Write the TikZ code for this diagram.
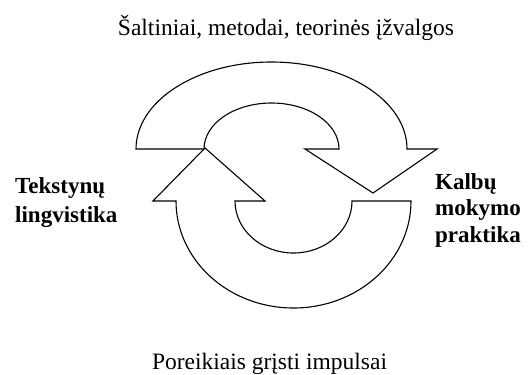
\documentclass[tikz,border=0pt]{standalone}
\usepackage{fontspec}
\setmainfont{Liberation Serif}
\usetikzlibrary{positioning}
\tikzstyle{caption} = [
    inner sep=0pt,
    anchor=base,
    font=\fontsize{23.5bp}{28bp}\selectfont
]
\tikzstyle{field} = [
    inner sep=0pt,
    anchor=base west,
    align=left,
    font=\bfseries\fontsize{23bp}{28bp}\selectfont
]
\tikzstyle{cycle} = [line width=1.1bp, line join=miter, fill=white]

\begin{document}
\begin{tikzpicture}[x=1bp, y=-1bp]

\useasboundingbox (0,0) rectangle (528,374);

% upper arrow, pointing down on the right
\draw [cycle] (136,149)
    arc [start angle=180, end angle=0, x radius=135.5bp, y radius=87bp]
    -- (437,149) -- (373,193) -- (305,149) -- (339,149)
    arc [start angle=0, end angle=180, x radius=67.5bp, y radius=46bp]
    -- cycle;

% lower arrow, pointing up on the left
\draw [cycle] (176,201)
    arc [start angle=180, end angle=360, x radius=117.5bp, y radius=107bp]
    -- (352,201)
    arc [start angle=0, end angle=-180, x radius=58.5bp, y radius=52bp]
    -- (265,201) -- (205,148) -- (153,201) -- cycle;

\node (sources) [caption] at (286,35)
{Šaltiniai, metodai, teorinės įžvalgos};

\node (impulses) [caption] at (269.5,369)
{Poreikiais grįsti impulsai};

\node (corpus) [field, font=\bfseries\fontsize{23bp}{29bp}\selectfont] at (15,222)
{Tekstynų\\lingvistika};

\node (teaching) [field, font=\bfseries\fontsize{23bp}{26.5bp}\selectfont] at (435,242)
{Kalbų\\mokymo\\praktika};

\end{tikzpicture}
\end{document}
